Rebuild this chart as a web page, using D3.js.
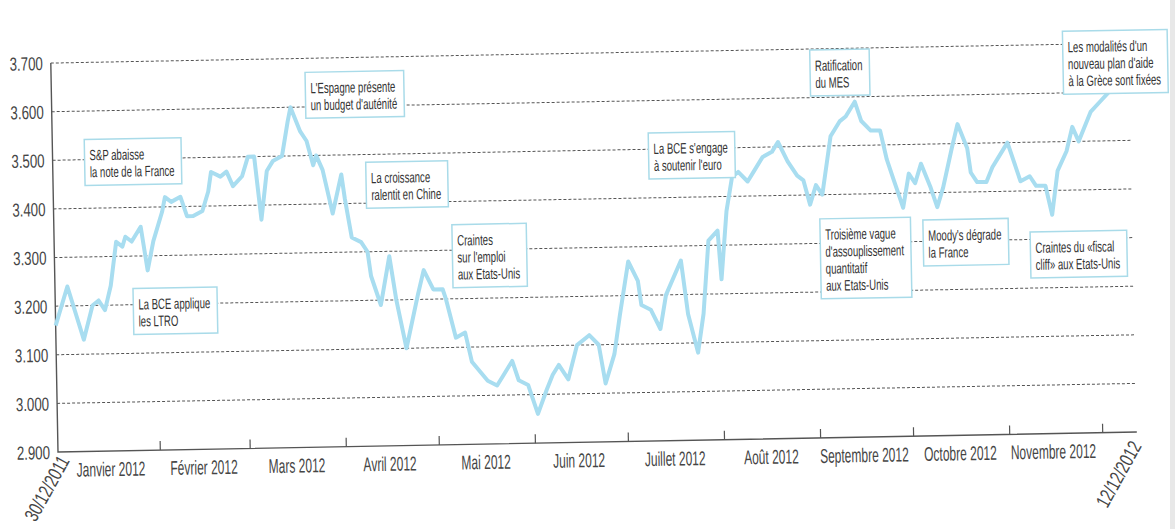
<!DOCTYPE html>
<html>
<head>
<meta charset="utf-8">
<script src="https://cdn.jsdelivr.net/npm/d3@7"></script>
<style>
  html, body { margin: 0; padding: 0; background: #fff; }
  svg { display: block; }
  text { font-family: "Liberation Sans", Arial, sans-serif; }
</style>
</head>
<body>
<svg id="chart" width="1175" height="529"></svg>
<script>
// series (peaks and troughs)
const dates = [
  "2011-12-30","2012-01-03","2012-01-08","2012-01-11","2012-01-13","2012-01-15","2012-01-17","2012-01-19",
  "2012-01-21","2012-01-22","2012-01-24","2012-01-27","2012-01-29","2012-01-31","2012-02-03","2012-02-04",
  "2012-02-06","2012-02-09","2012-02-11","2012-02-13","2012-02-16","2012-02-18","2012-02-19","2012-02-22",
  "2012-02-24","2012-02-26","2012-02-29","2012-03-02","2012-03-04","2012-03-06","2012-03-08","2012-03-10",
  "2012-03-13","2012-03-15","2012-03-16","2012-03-19","2012-03-21","2012-03-23","2012-03-24","2012-03-26",
  "2012-03-29","2012-04-01","2012-04-02","2012-04-04","2012-04-07","2012-04-09","2012-04-10","2012-04-13",
  "2012-04-16","2012-04-18","2012-04-21","2012-04-25","2012-04-27","2012-04-30","2012-05-03","2012-05-04",
  "2012-05-07","2012-05-10","2012-05-12","2012-05-17","2012-05-20","2012-05-22","2012-05-25","2012-05-27",
  "2012-05-30","2012-05-31","2012-06-02","2012-06-05","2012-06-07","2012-06-09","2012-06-12","2012-06-15",
  "2012-06-19","2012-06-22","2012-06-24","2012-06-27","2012-06-29","2012-07-02","2012-07-05","2012-07-06",
  "2012-07-09","2012-07-12","2012-07-14","2012-07-19","2012-07-21","2012-07-24","2012-07-26","2012-07-28",
  "2012-07-31","2012-08-01","2012-08-03","2012-08-05","2012-08-07","2012-08-10","2012-08-12","2012-08-15",
  "2012-08-18","2012-08-20","2012-08-23","2012-08-26","2012-08-28","2012-08-30","2012-09-01","2012-09-03",
  "2012-09-06","2012-09-09","2012-09-11","2012-09-14","2012-09-16","2012-09-19","2012-09-22","2012-09-24",
  "2012-09-26","2012-09-27","2012-09-29","2012-10-01","2012-10-03","2012-10-05","2012-10-08","2012-10-10",
  "2012-10-12","2012-10-15","2012-10-17","2012-10-20","2012-10-21","2012-10-23","2012-10-26","2012-10-28",
  "2012-10-30","2012-11-02","2012-11-04","2012-11-06","2012-11-09","2012-11-11","2012-11-14","2012-11-16",
  "2012-11-18","2012-11-21","2012-11-23","2012-11-25","2012-11-29","2012-12-02","2012-12-05","2012-12-08",
  "2012-12-12"
];
const values = [
  3.16,3.24,3.13,3.20,3.21,3.19,3.24,3.33,
  3.32,3.34,3.33,3.36,3.27,3.33,3.39,3.42,
  3.41,3.42,3.38,3.38,3.39,3.43,3.47,3.46,
  3.47,3.44,3.46,3.50,3.50,3.37,3.47,3.49,
  3.50,3.57,3.60,3.55,3.53,3.48,3.50,3.47,
  3.38,3.46,3.41,3.33,3.32,3.30,3.25,3.19,
  3.29,3.20,3.10,3.21,3.26,3.22,3.22,3.20,
  3.12,3.13,3.07,3.03,3.02,3.04,3.07,3.03,
  3.02,3.00,2.96,3.01,3.04,3.06,3.03,3.10,
  3.12,3.10,3.02,3.08,3.16,3.27,3.23,3.18,
  3.17,3.13,3.20,3.27,3.16,3.08,3.16,3.31,
  3.33,3.23,3.37,3.44,3.45,3.43,3.45,3.48,
  3.49,3.51,3.47,3.44,3.43,3.38,3.42,3.40,
  3.52,3.55,3.56,3.59,3.55,3.53,3.53,3.47,
  3.43,3.41,3.37,3.44,3.42,3.46,3.41,3.37,
  3.41,3.49,3.54,3.49,3.44,3.42,3.42,3.45,
  3.47,3.50,3.46,3.42,3.43,3.41,3.41,3.35,
  3.44,3.48,3.53,3.50,3.56,3.58,3.60,3.63,
  3.65
];

const yTicks = [2.9, 3.0, 3.1, 3.2, 3.3, 3.4, 3.5, 3.6, 3.7];
const tickDates = ["2012-02-01","2012-03-01","2012-04-01","2012-05-01","2012-06-01","2012-07-01",
  "2012-08-01","2012-09-01","2012-10-01","2012-11-01","2012-12-01"];
const monthLabels = ["Janvier 2012","Février 2012","Mars 2012","Avril 2012","Mai 2012","Juin 2012",
  "Juillet 2012","Août 2012","Septembre 2012","Octobre 2012","Novembre 2012"];
const monthMid = ["2012-01-16","2012-02-15","2012-03-16","2012-04-15","2012-05-16","2012-06-15",
  "2012-07-16","2012-08-16","2012-09-15","2012-10-16","2012-11-15"];
const startLabel = "30/12/2011";
const endLabel = "12/12/2012";

const notes = [
  ["S&P abaisse", "la note de la France"],
  ["La BCE applique", "les LTRO"],
  ["L'Espagne présente", "un budget d'auténité"],
  ["La croissance", "ralentit en Chine"],
  ["Craintes", "sur l'emploi", "aux Etats-Unis"],
  ["La BCE s'engage", "à soutenir l'euro"],
  ["Ratification", "du MES"],
  ["Les modalités d'un", "nouveau plan d'aide", "à la Grèce sont fixées"],
  ["Troisième vague", "d'assouplissement", "quantitatif", "aux Etats-Unis"],
  ["Moody's dégrade", "la France"],
  ["Craintes du «fiscal", "cliff» aux Etats-Unis"]
];
// box top-left corners, in the chart frame
const notePos = [[90,140],[136,290],[312,77],[371,168],[456,232],[654,144],[817,64],[1070,50],[824,233],[927,236],[1034,250]];

const parse = d3.timeParse("%Y-%m-%d");
const series = dates.map((d, i) => ({ date: parse(d), v: values[i] }));

const svg = d3.select("#chart");
const plotLeft = 58, plotBottom = 452, plotRight = 1137, plotTop = 63;

const x = d3.scaleTime()
  .domain([parse("2011-12-30"), parse("2012-12-12")])
  .range([plotLeft, plotRight]);
const y = d3.scaleLinear().domain([2.9, 3.7]).range([plotBottom, plotTop]);

svg.append("rect").attr("x", 1170).attr("y", 0).attr("width", 5).attr("height", 529).attr("fill", "#e8e8e8");

// the scan is slightly tilted
const g = svg.append("g").attr("transform", `rotate(-1.06, ${plotLeft}, ${plotBottom})`);

// condensed print face: squeeze Liberation Sans horizontally
function label(parent, txt, px, py, size, sx, anchor, extra) {
  return parent.append("text")
    .attr("transform", `translate(${px},${py})${extra || ""} scale(${sx},1)`)
    .attr("text-anchor", anchor)
    .attr("font-size", size)
    .attr("fill", "#454545")
    .text(txt);
}

// grid
g.append("g").selectAll("line")
  .data(yTicks.slice(1))
  .join("line")
  .attr("x1", plotLeft).attr("x2", plotRight)
  .attr("y1", d => y(d)).attr("y2", d => y(d))
  .attr("stroke", "#555")
  .attr("stroke-width", 1)
  .attr("stroke-dasharray", "3,2");

// axes
g.append("path")
  .attr("d", `M${plotLeft},${plotTop}V${plotBottom}H${plotRight}`)
  .attr("fill", "none")
  .attr("stroke", "#555")
  .attr("stroke-width", 1.4);

g.append("g").selectAll("line")
  .data(tickDates)
  .join("line")
  .attr("x1", d => x(parse(d))).attr("x2", d => x(parse(d)))
  .attr("y1", plotBottom).attr("y2", plotBottom - 9)
  .attr("stroke", "#555")
  .attr("stroke-width", 1.2);

yTicks.forEach(v => {
  label(g, d3.format(".3f")(v), 50, y(v) + 7, 19, 0.7, "end");
});

monthLabels.forEach((m, i) => {
  label(g, m, x(parse(monthMid[i])), plotBottom + 25, 20, 0.6, "middle");
});

label(g, startLabel, 70, 461, 20, 0.72, "end", " rotate(-60)");
label(g, endLabel, 1142, 466, 20, 0.72, "end", " rotate(-60)");

// series
const line = d3.line().x(d => x(d.date)).y(d => y(d.v));
g.append("path")
  .datum(series)
  .attr("d", line)
  .attr("fill", "none")
  .attr("stroke", "#a8ddf0")
  .attr("stroke-width", 4)
  .attr("stroke-linejoin", "round");

// annotations
const sxNote = 0.64;
notes.forEach((lines, i) => {
  const [px, py] = notePos[i];
  const box = g.append("g").attr("transform", `translate(${px},${py})`);
  const rect = box.append("rect");
  let w = 0;
  lines.forEach((t, j) => {
    const el = label(box, t, 5, 21 + j * 17, 15, sxNote, "start").attr("fill", "#333");
    w = Math.max(w, el.node().getComputedTextLength() * sxNote);
  });
  rect.attr("width", w + 12)
    .attr("height", 21 + 17 * (lines.length - 1) + 8)
    .attr("fill", "#fff")
    .attr("stroke", "#a9dbe9")
    .attr("stroke-width", 1.5);
});
</script>
</body>
</html>
